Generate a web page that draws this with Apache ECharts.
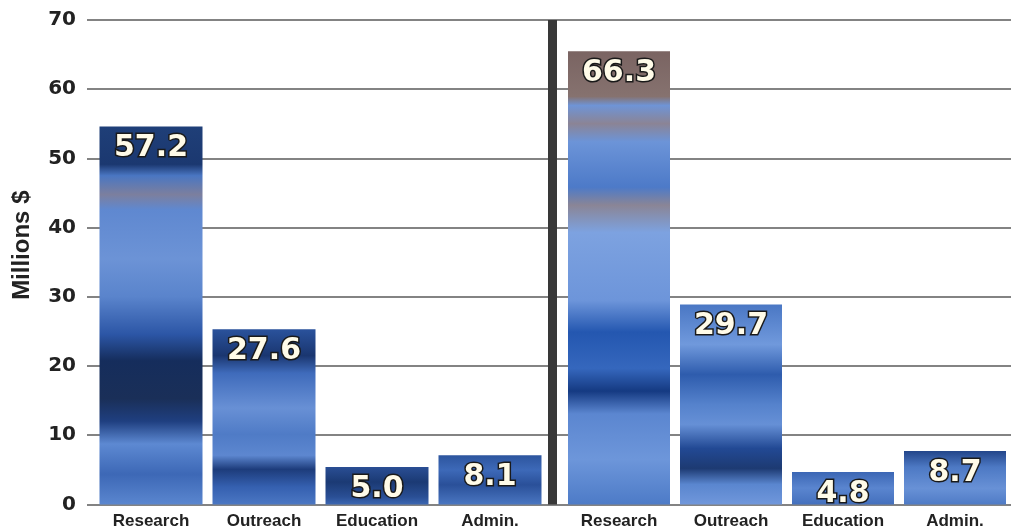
<!DOCTYPE html>
<html>
<head>
<meta charset="utf-8">
<script src="https://cdn.jsdelivr.net/npm/echarts@6/dist/echarts.min.js"></script>
<style>
html,body{margin:0;padding:0;background:#fff;}
#chart{width:1011px;height:532px;}
</style>
</head>
<body>
<div id="chart"></div>
<script>
// ---- data ----
var categories = ['Research', 'Outreach', 'Education', 'Admin.'];
var group1Values = [54.6, 25.3, 5.4, 7.1];      // bar heights as drawn
var group1Labels = ['57.2', '27.6', '5.0', '8.1']; // printed labels
var group2Values = [65.5, 28.9, 4.7, 7.7];
var group2Labels = ['66.3', '29.7', '4.8', '8.7'];
var yTicks = [0, 10, 20, 30, 40, 50, 60, 70];

// ---- styles (texture approximations) ----
function grad(stops) {
  return {
    type: 'linear', x: 0, y: 0, x2: 0, y2: 1,
    colorStops: stops.map(function (s) { return { offset: s[0], color: s[1] }; })
  };
}
var group1Fills = [
  grad([[0, '#1f3f78'], [0.1, '#1b3870'], [0.13, '#4a76c2'], [0.18, '#7c7f9e'], [0.22, '#5f88d0'],
        [0.35, '#6c93d6'], [0.45, '#5a84cc'], [0.55, '#2c56a6'], [0.62, '#152d5c'], [0.72, '#1a2f58'],
        [0.78, '#1f3f80'], [0.84, '#5d89d2'], [0.92, '#3d68b6'], [1, '#5a86cf']]),
  grad([[0, '#2a529c'], [0.15, '#1a3670'], [0.25, '#3f6bbb'], [0.45, '#6890d5'], [0.6, '#4f7bc6'],
        [0.72, '#5d87d0'], [0.8, '#1d3c7b'], [0.9, '#3560b0'], [1, '#4b77c3']]),
  grad([[0, '#2a4e94'], [0.4, '#1b3a74'], [0.8, '#2a4f95'], [1, '#3c67b2']]),
  grad([[0, '#2d559e'], [0.3, '#3d69b8'], [0.6, '#2a5099'], [1, '#4a76c1']])
];
var group2Fills = [
  grad([[0, '#7a6462'], [0.1, '#86726f'], [0.12, '#6f94d6'], [0.16, '#8b8495'], [0.2, '#6c94d8'],
        [0.3, '#4d7ac8'], [0.34, '#8a8596'], [0.4, '#7da2e0'], [0.55, '#6d95da'], [0.62, '#2457b0'],
        [0.7, '#3567bd'], [0.75, '#153a82'], [0.8, '#5b86d0'], [0.9, '#6d96da'], [1, '#4d7bc7']]),
  grad([[0, '#4a77c4'], [0.2, '#7099dc'], [0.35, '#2e5cad'], [0.5, '#5582cc'], [0.6, '#6690d6'],
        [0.72, '#224994'], [0.82, '#1d3a72'], [0.9, '#5a86cf'], [1, '#7097db']]),
  grad([[0, '#3b66b4'], [0.5, '#5a85cf'], [1, '#4470bd']]),
  grad([[0, '#23468a'], [0.3, '#4d79c4'], [0.7, '#6891d6'], [1, '#4f7bc6']])
];

function buildData(values, fills) {
  return values.map(function (v, i) {
    return { value: v, itemStyle: { color: fills[i] } };
  });
}
function barLabel(labels) {
  return {
    show: true,
    position: 'insideTop',
    distance: 7,
    formatter: function (p) { return labels[p.dataIndex]; },
    color: '#fffbe8',
    fontFamily: 'DejaVu Sans',
    fontWeight: 'bold',
    fontSize: 30,
    textBorderColor: '#1a1a1a',
    textBorderWidth: 3
  };
}

var chart = echarts.init(document.getElementById('chart'), null, { renderer: 'canvas' });
var gridTop = 20, gridBottom = 27.6;
var option = {
  animation: false,
  backgroundColor: '#ffffff',
  grid: [
    { left: 87, right: 0, top: gridTop, bottom: gridBottom },
    { left: 94.5, width: 452, top: gridTop, bottom: gridBottom },
    { left: 563, width: 448, top: gridTop, bottom: gridBottom }
  ],
  xAxis: [
    { gridIndex: 0, type: 'value', show: false, min: 0, max: 1 },
    {
      gridIndex: 1, type: 'category', data: categories,
      axisLine: { show: false }, axisTick: { show: false },
      axisLabel: { margin: 8, color: '#222', fontFamily: 'Liberation Sans', fontWeight: 'bold', fontSize: 17 }
    },
    {
      gridIndex: 2, type: 'category', data: categories,
      axisLine: { show: false }, axisTick: { show: false },
      axisLabel: { margin: 8, color: '#222', fontFamily: 'Liberation Sans', fontWeight: 'bold', fontSize: 17 }
    }
  ],
  yAxis: [
    {
      gridIndex: 0, type: 'value', min: yTicks[0], max: yTicks[yTicks.length - 1], interval: 10,
      name: 'Millions $', nameLocation: 'middle', nameGap: 53,
      nameTextStyle: { color: '#222', fontFamily: 'Liberation Sans', fontWeight: 'bold', fontSize: 24, padding: [0, 0, 0, 34] },
      axisLine: { show: false }, axisTick: { show: false },
      axisLabel: { margin: 11, color: '#222', fontFamily: 'DejaVu Sans', fontWeight: 'bold', fontSize: 20 },
      splitLine: { show: true, lineStyle: { color: '#5a5a5a', width: 1.5 } }
    },
    {
      gridIndex: 1, type: 'value', min: 0, max: 70, interval: 10, show: false
    },
    {
      gridIndex: 2, type: 'value', min: 0, max: 70, interval: 10,
      position: 'left', offset: 10.5,
      axisLine: { show: true, lineStyle: { color: '#383838', width: 9, cap: 'butt' } },
      axisTick: { show: false }, axisLabel: { show: false }, splitLine: { show: false }
    }
  ],
  series: [
    {
      type: 'bar', xAxisIndex: 1, yAxisIndex: 1, barWidth: 103,
      data: buildData(group1Values, group1Fills),
      label: barLabel(group1Labels), z: 3
    },
    {
      type: 'bar', xAxisIndex: 2, yAxisIndex: 2, barWidth: 102,
      data: buildData(group2Values, group2Fills),
      label: barLabel(group2Labels), z: 3
    }
  ]
};
chart.setOption(option);
</script>
</body>
</html>
